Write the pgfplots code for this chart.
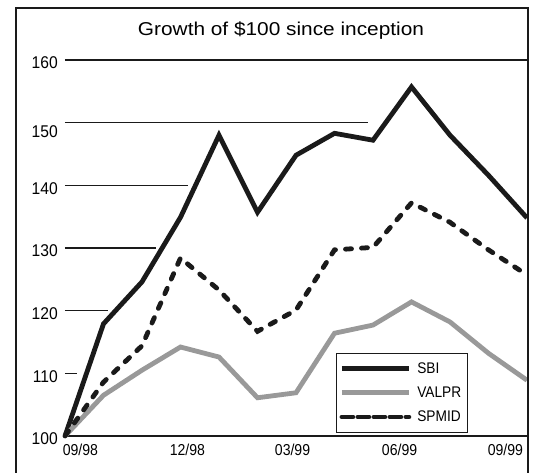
\documentclass[border=0pt]{standalone}
\usepackage{fontspec}
\setmainfont{Liberation Sans}
\newfontfamily\narrowsans[FakeStretch=0.89]{Liberation Sans}
\newfontfamily\ytickfont[FakeStretch=0.92]{Liberation Sans}
\newfontfamily\widesans[FakeStretch=1.12]{Liberation Sans}
\usepackage{pgfplots}
\pgfplotsset{compat=1.18}
\definecolor{linegray}{HTML}{999999}
\definecolor{ink}{HTML}{1A1A1A}
\newcommand\legfont{\narrowsans\fontsize{15.4}{17}\selectfont}
\begin{document}
\begin{tikzpicture}
\begin{axis}[
  scale only axis,
  width=462pt, height=376pt,
  xmin=0, xmax=12, ymin=100, ymax=160,
  clip=false,
  axis x line*=bottom,
  axis y line*=left,
  y axis line style={draw=none},
  x axis line style={line width=1.2pt, ink},
  major tick length=0pt,
  ytick={100,110,120,130,140,160},
  extra y ticks={150},
  extra y tick style={yticklabel style={yshift=-5.5pt}},
  xtick={0.40,3.18,5.91,8.69,11.44},
  xticklabels={09/98,12/98,03/99,06/99,09/99},
  /pgf/number format/assume math mode=true,
  yticklabel style={font=\ytickfont\fontsize{17}{19}\selectfont, inner sep=0pt, xshift=-7pt, yshift=-3pt},
  xticklabel style={font=\narrowsans\fontsize{15.8}{18}\selectfont, inner sep=0pt, yshift=-8pt},
  legend style={at={(0.5866,0.2207)}, anchor=north west, draw=ink, line width=1pt,
    font=\legfont, nodes={inner sep=3pt}, row sep=6pt, inner xsep=3pt, inner ysep=6pt,
    /tikz/every odd column/.append style={column sep=3pt},
    legend cell align=left},
  legend image code/.code={\path (-5pt,0pt) -- (62pt,0pt); \draw[#1] (0pt,0pt) -- (62pt,0pt);},
]
% partial horizontal rules, stopping short of the SBI line
\draw[line width=1.2pt, ink] (axis cs:0,110) -- (axis cs:0.31,110);
\draw[line width=1.2pt, ink] (axis cs:0,120) -- (axis cs:1.12,120);
\draw[line width=1.2pt, ink] (axis cs:0,130) -- (axis cs:2.36,130);
\draw[line width=1.2pt, ink] (axis cs:0,140) -- (axis cs:3.19,140);
\draw[line width=1.2pt, ink] (axis cs:0,150) -- (axis cs:7.87,150);
\draw[line width=1.2pt, ink] (axis cs:0,160) -- (axis cs:12,160);

\addplot[ink, line width=4.8pt, line join=miter] coordinates {
  (0,100) (1,117.9) (2,124.6) (3,134.9) (4,148.0) (5,135.7) (6,144.8)
  (7,148.3) (8,147.2) (9,155.7) (10,148.0) (11,141.6) (12,134.8)};
\addlegendentry{\legfont SBI}
\addplot[linegray, line width=4.8pt, line join=miter] coordinates {
  (0,100) (1,106.5) (2,110.5) (3,114.2) (4,112.6) (5,106.1) (6,106.9)
  (7,116.4) (8,117.7) (9,121.4) (10,118.2) (11,113.2) (12,108.9)};
\addlegendentry{\legfont VALPR}
\addplot[ink, line width=4.8pt, line cap=round, dash pattern=on 6pt off 10pt] coordinates {
  (0,100) (1,108.6) (2,114.4) (3,128.4) (4,123.3) (5,116.7) (6,120.1)
  (7,129.7) (8,130.1) (9,137.2) (10,134.1) (11,129.7) (12,125.7)};
\addlegendentry{\legfont SPMID}

\coordinate (O) at (rel axis cs:0,0);
\end{axis}
\node[font=\widesans\fontsize{18.6}{22}\selectfont, inner sep=0pt, anchor=base] at ([shift={(216pt,400pt)}]O) {Growth of \$100 since inception};
\draw[line width=2pt, ink] ([shift={(-49pt,-80pt)}]O) rectangle ([shift={(463pt,428pt)}]O);
\pgfresetboundingbox
\path[use as bounding box] ([shift={(-65pt,-36pt)}]O) rectangle ([shift={(468pt,436pt)}]O);
\end{tikzpicture}
\end{document}
